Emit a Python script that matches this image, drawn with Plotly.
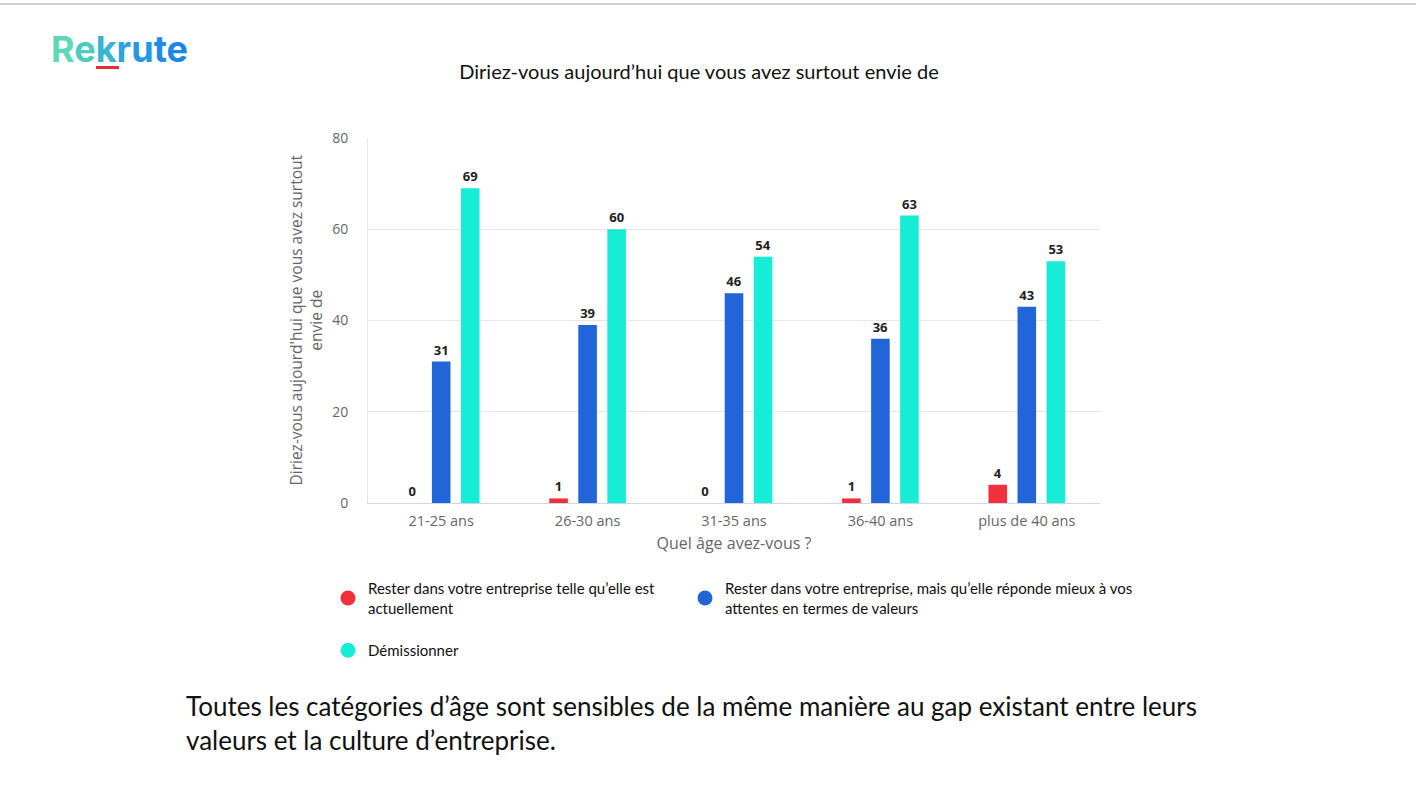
import plotly.graph_objects as go

categories = ["21-25 ans", "26-30 ans", "31-35 ans", "36-40 ans", "plus de 40 ans"]
series_names = [
    "Rester dans votre entreprise telle qu\u2019elle est<br>actuellement",
    "Rester dans votre entreprise, mais qu\u2019elle réponde mieux à vos<br>attentes en termes de valeurs",
    "Démissionner",
]
rester_tel = [0, 1, 0, 1, 4]
rester_mieux = [31, 39, 46, 36, 43]
demissionner = [69, 60, 54, 63, 53]
series_values = [rester_tel, rester_mieux, demissionner]
colors = ["#f2303c", "#2265d8", "#16ecd6"]
y_ticks = [0, 20, 40, 60, 80]

W, H = 1416, 801
L, R, T, B = 368, 1100, 138, 503
PW, PH = R - L, B - T


def px_x(x):
    return (x - L) / PW


def px_y(y):
    return (B - y) / PH


legend_ids = ["legend", "legend2", "legend3"]
# legend positions (px): left, top
legend_pos = [(328, 572), (685, 572), (328, 634)]

fig = go.Figure()
for name, vals, col, lid in zip(series_names, series_values, colors, legend_ids):
    fig.add_trace(go.Bar(
        x=categories, y=vals, name=name, showlegend=False,
        marker=dict(color=col, line=dict(width=0)),
        text=vals, texttemplate="<b>%{text}</b>", textposition="outside",
        textfont=dict(family="Open Sans, sans-serif", size=13, color="#222"),
        cliponaxis=False,
    ))
    # legend entry with circle symbol
    fig.add_trace(go.Scatter(
        x=[None], y=[None], mode="markers", name=name, legend=lid,
        marker=dict(color=col, size=15, symbol="circle"), showlegend=True,
    ))

legend_common = dict(orientation="v", xanchor="left", yanchor="top",
                     font=dict(family="Lato, sans-serif", size=15, color="#111"),
                     bgcolor="rgba(0,0,0,0)")
layout_legends = {}
for lid, (lx, ly) in zip(legend_ids, legend_pos):
    layout_legends[lid] = dict(x=px_x(lx), y=px_y(ly), **legend_common)

fig.update_layout(
    width=W, height=H,
    margin=dict(l=L, r=W - R, t=T, b=H - B, autoexpand=False),
    paper_bgcolor="white", plot_bgcolor="white",
    barmode="group", bargap=0.405, bargroupgap=0.36,
    font=dict(family="Open Sans, sans-serif", color="#666"),
    title=dict(text="Diriez-vous aujourd\u2019hui que vous avez surtout envie de",
               x=699 / W, xanchor="center", xref="container",
               y=1 - 72 / H, yanchor="middle", yref="container",
               font=dict(family="Lato, sans-serif", size=20, color="#111")),
    xaxis=dict(showgrid=False, showline=True, linecolor="#ccd6eb", linewidth=1,
               ticks="", tickfont=dict(size=14.5, color="#666"), ticklabelstandoff=5,
               title=dict(text="Quel âge avez-vous ?", font=dict(size=16, color="#666"), standoff=8)),
    yaxis=dict(range=[0, 80], tickvals=y_ticks, showgrid=True, gridcolor="#e6e6e6",
               showline=True, linecolor="#e6e6e6", zeroline=False, ticks="",
               tickfont=dict(size=14, color="#666"), ticklabelstandoff=16),
    showlegend=True,
    **layout_legends,
)

fig.add_annotation(
    text="Diriez-vous aujourd'hui que vous avez surtout<br>envie de",
    xref="paper", yref="paper", x=px_x(305), y=0.5,
    xanchor="center", yanchor="middle", textangle=-90, showarrow=False,
    font=dict(family="Open Sans, sans-serif", size=15.5, color="#666"),
)

logo = ("<b><span style='color:#5fd9b5'>R</span><span style='color:#4ccbc0'>e</span>"
        "<span style='color:#38b4d2'>k</span><span style='color:#2ea3dd'>r</span>"
        "<span style='color:#2698e3'>u</span><span style='color:#1f8de7'>t</span>"
        "<span style='color:#1a85ea'>e</span></b>")
fig.add_annotation(text=logo, xref="paper", yref="paper",
                   x=px_x(49), y=px_y(49),
                   xanchor="left", yanchor="middle", showarrow=False,
                   font=dict(family="Inter, sans-serif", size=36))
fig.add_shape(type="rect", xref="paper", yref="paper",
              x0=px_x(96), x1=px_x(119), y0=px_y(69), y1=px_y(66),
              fillcolor="#e32c3c", line=dict(width=0))
fig.add_shape(type="line", xref="paper", yref="paper",
              x0=px_x(0), x1=px_x(W), y0=px_y(4), y1=px_y(4),
              line=dict(color="#cccccc", width=2))

fig.add_annotation(
    text="Toutes les catégories d\u2019âge sont sensibles de la même manière au gap existant entre leurs<br>valeurs et la culture d\u2019entreprise.",
    xref="paper", yref="paper", x=px_x(184), y=px_y(723),
    xanchor="left", yanchor="middle", align="left", showarrow=False,
    font=dict(family="Lato, sans-serif", size=26, color="#111"),
)

fig.write_html("out.html")
